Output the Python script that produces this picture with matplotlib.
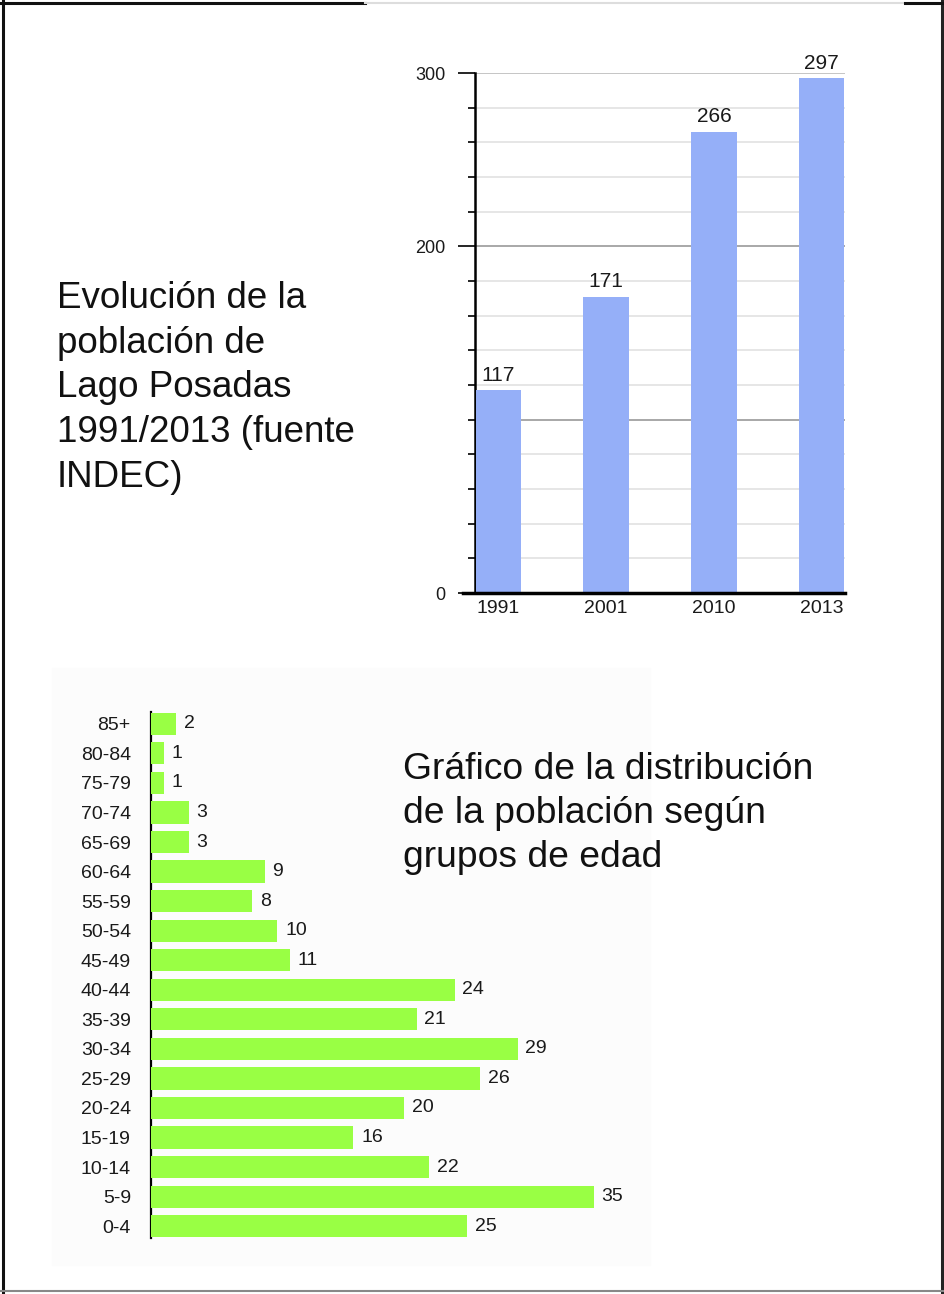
import matplotlib
matplotlib.use("Agg")
import matplotlib.pyplot as plt
from matplotlib.lines import Line2D
from matplotlib.patches import Rectangle

plt.rcParams['font.family'] = ['Liberation Sans', 'DejaVu Sans']

# datos
anios = ['1991', '2001', '2010', '2013']
poblacion = [117, 171, 266, 297]

grupos = ['0-4', '5-9', '10-14', '15-19', '20-24', '25-29', '30-34', '35-39',
          '40-44', '45-49', '50-54', '55-59', '60-64', '65-69', '70-74',
          '75-79', '80-84', '85+']
cantidad = [25, 35, 22, 16, 20, 26, 29, 21, 24, 11, 10, 8, 9, 3, 3, 1, 1, 2]

W, H = 945, 1294
fig = plt.figure(figsize=(W / 100, H / 100), dpi=100)


def caja(x0, y0, x1, y1):
    # pixeles (desde arriba) a fracciones de figura
    return [x0 / W, 1 - y1 / H, (x1 - x0) / W, (y1 - y0) / H]


def fx(x):
    return x / W


def fy(y):
    return 1 - y / H


texto = '#1a1a1a'

# fondo tenue del segundo grafico
fig.add_artist(Rectangle((fx(52), fy(1265)), fx(650) - fx(52), fy(668) - fy(1265),
                         transform=fig.transFigure, color='#fcfcfc', zorder=0))

# marco
for x0, y0, x1, y1, c, lw in [(3, 0, 3, H, '#111111', 2.2),
                              (942, 0, 942, H, '#222222', 2.2),
                              (0, 3, 365, 3, '#111111', 2.2),
                              (365, 3, 905, 3, '#dddddd', 1.5),
                              (905, 3, W, 3, '#111111', 2.2),
                              (0, 1291, W, 1291, '#888888', 1.5)]:
    fig.add_artist(Line2D([fx(x0), fx(x1)], [fy(y0), fy(y1)],
                          transform=fig.transFigure, color=c, lw=lw))

# ---- Evolucion de la poblacion ----
ax1 = fig.add_axes(caja(475, 73, 845, 593))
x = range(len(anios))
ax1.bar(x, poblacion, width=0.42, color='#95aff8', zorder=3)
ax1.set_xlim(-0.215, 3.215)
ax1.set_ylim(0, 300)

for v in range(20, 301, 20):
    if v % 100 == 0 and v < 300:
        col = '#999999'
    elif v == 300:
        col = '#bbbbbb'
    else:
        col = '#e2e2e2'
    ax1.axhline(v, color=col, lw=1.2, zorder=1)

ax1.set_yticks([0, 200, 300])
ax1.set_yticks(range(0, 301, 20), minor=True)
ax1.tick_params(axis='y', which='major', length=12, width=1.2, pad=9,
                labelsize=13, labelcolor=texto)
ax1.tick_params(axis='y', which='minor', length=5, width=1.2)
ax1.set_xticks(list(x))
ax1.set_xticklabels(anios)
ax1.tick_params(axis='x', length=0, pad=5, labelsize=14, labelcolor=texto)

for s in ['top', 'right']:
    ax1.spines[s].set_visible(False)
ax1.spines['left'].set_linewidth(1.8)
ax1.spines['bottom'].set_linewidth(2.5)
ax1.spines['bottom'].set_bounds(-0.325, 3.215)
ax1.spines['bottom'].set_zorder(4)

for i, v in enumerate(poblacion):
    ax1.annotate(str(v), (i, v), xytext=(0, 4), textcoords='offset points',
                 ha='center', va='bottom', fontsize=15, color=texto)

fig.text(fx(57), fy(281), 'Evolución de la\npoblación de\nLago Posadas\n1991/2013 (fuente\nINDEC)',
         fontsize=26.5, color='#111111', va='top', ha='left', linespacing=1.36)

# ---- Distribucion por grupos de edad ----
ax2 = fig.add_axes(caja(151, 712, 657, 1238))
ax2.patch.set_alpha(0)
y = range(len(grupos))
ax2.barh(y, cantidad, height=0.75, color='#99ff44', zorder=3)
ax2.set_xlim(0, 40)
ax2.set_ylim(-0.4, len(grupos) - 0.6)
ax2.set_yticks(list(y))
ax2.set_yticklabels(grupos)
ax2.tick_params(axis='y', length=0, pad=14.5, labelsize=14, labelcolor=texto)
ax2.set_xticks([])
for s in ['top', 'right', 'bottom']:
    ax2.spines[s].set_visible(False)
ax2.spines['left'].set_linewidth(1.6)

for i, v in enumerate(cantidad):
    ax2.annotate(str(v), (v, i), xytext=(5.5, 0), textcoords='offset points',
                 ha='left', va='center', fontsize=14, color=texto)

fig.text(fx(403), fy(752), 'Gráfico de la distribución\nde la población según\ngrupos de edad',
         fontsize=26.8, color='#111111', va='top', ha='left', linespacing=1.33)

fig.savefig('out.png', dpi=100)
